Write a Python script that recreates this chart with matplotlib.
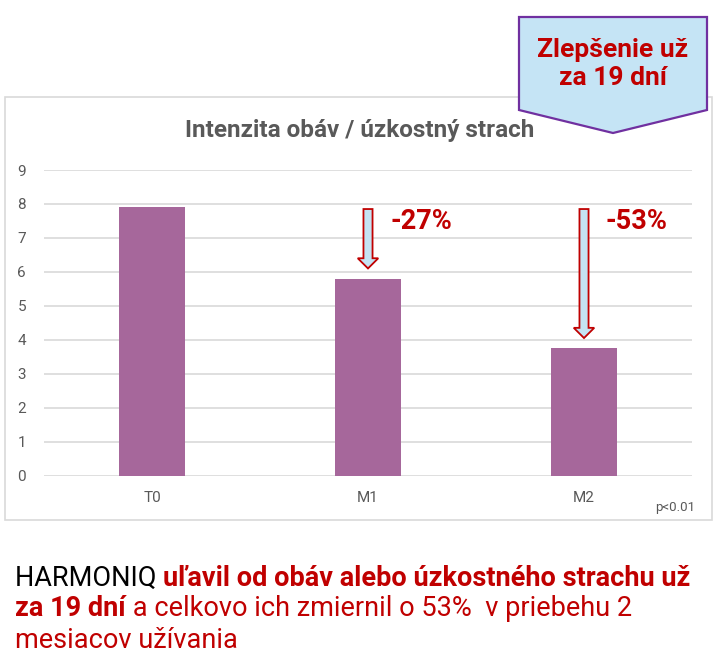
import matplotlib
matplotlib.use("Agg")
import matplotlib.pyplot as plt
from matplotlib.patches import Polygon, Rectangle, FancyArrow

categories = ["T0", "M1", "M2"]
values = [7.92, 5.80, 3.75]
drops = ["-27%", "-53%"]
title = "Intenzita obáv / úzkostný strach"
callout = "Zlepšenie už\nza 19 dní"

bar_col = "#A6679B"
red = "#C00000"
grey = "#595959"

plt.rcParams["font.family"] = ["Roboto", "DejaVu Sans"]

fig = plt.figure(figsize=(7.21, 6.55), dpi=100)

# background layer in pixel coords for frame, callout, caption
bg = fig.add_axes([0, 0, 1, 1])
bg.set_xlim(0, 721)
bg.set_ylim(655, 0)
bg.axis("off")
bg.add_patch(Rectangle((5, 97), 707, 423, fill=False, ec="#D9D9D9", lw=1.2))

ax = fig.add_axes([44 / 721, 1 - 475.5 / 655, 648 / 721, (475.5 - 170) / 655])
x = range(len(categories))
ax.bar(x, values, width=0.31, color=bar_col, zorder=2)
ax.set_xlim(-0.5, 2.5)
ax.set_ylim(0, 9)
ax.set_yticks(range(10))
ax.yaxis.grid(True, color="#D9D9D9", lw=1.2, zorder=0)
for s in ax.spines.values():
    s.set_visible(False)
ax.tick_params(length=0, labelsize=11, labelcolor=grey)
ax.tick_params(axis="y", pad=13)
ax.tick_params(axis="x", pad=11)
ax.set_xticks(list(x))
ax.set_xticklabels(categories)
ax.patch.set_alpha(0)

# arrows from baseline level down to each later bar
top = values[0] - 0.07
for i in (1, 2):
    end = values[i] + 0.3
    ax.add_patch(FancyArrow(i, top, 0, end - top, width=0.042, head_width=0.095,
                            head_length=0.3, length_includes_head=True,
                            fc="#C5E3F3", ec=red, lw=1.3, zorder=3))
    ax.text(i + 0.245, top - 0.38, drops[i - 1], color=red, fontsize=19.5,
            fontweight="bold", ha="center", va="center")

fig.text(360 / 721, 1 - 130 / 655, title, ha="center", va="center",
         fontsize=17.5, fontweight="bold", color=grey)
fig.text(695 / 721, 1 - 508 / 655, "p<0.01", ha="right", va="center",
         fontsize=9.5, color=grey)

# callout shape
bg.add_patch(Polygon([(519, 17), (707, 17), (707, 110), (613, 133), (519, 110)],
                     closed=True, fc="#C5E4F5", ec="#7030A0", lw=1.6, zorder=5))
bg.text(613, 64, callout, ha="center", va="center", color=red, fontsize=19,
        fontweight="bold", linespacing=1.25, zorder=6)

# caption with mixed styles
cap_font = ["Roboto", "DejaVu Sans"]
lines = [
    [("HARMONIQ ", "black", "normal"),
     ("uľavil od obáv alebo úzkostného strachu už", red, "bold")],
    [("za 19 dní", red, "bold"),
     (" a celkovo ich zmiernil o 53%  v priebehu 2", red, "normal")],
    [("mesiacov užívania", red, "normal")],
]
line_y = [578, 609, 640]
for ly, parts in zip(line_y, lines):
    prev = None
    for s, c, w in parts:
        if prev is None:
            prev = bg.text(15, ly, s, color=c, fontweight=w, fontsize=19.5,
                           family=cap_font, va="center", ha="left")
        else:
            prev = bg.annotate(s, xy=(1, 0), xycoords=prev, va="bottom",
                               ha="left", color=c, fontweight=w, fontsize=19.5,
                               family=cap_font)

fig.savefig("out.png", dpi=100)
